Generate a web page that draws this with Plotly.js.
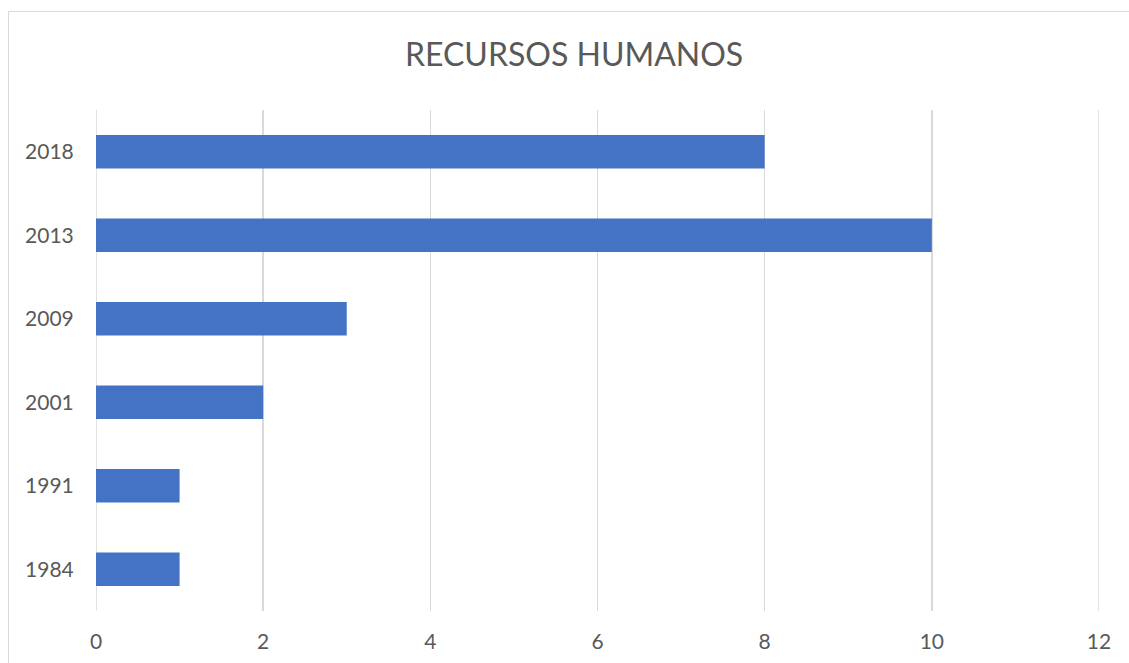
<!DOCTYPE html>
<html>
<head>
<meta charset="utf-8">
<script src="https://cdn.plot.ly/plotly-3.0.1.min.js"></script>
<style>
  html, body { margin: 0; padding: 0; background: #ffffff; overflow: hidden; }
  #frame { position: absolute; left: 8px; top: 11px; width: 1200px; height: 800px;
           border-left: 1px solid #d9d9d9; border-top: 1px solid #d9d9d9; }
  #chart { position: absolute; left: 0; top: 0; width: 1129px; height: 663px; }
</style>
</head>
<body>
<div id="frame"></div>
<div id="chart"></div>
<script>
const years = ['1984', '1991', '2001', '2009', '2013', '2018'];
const values = [1, 1, 2, 3, 10, 8];
const xTicks = [0, 2, 4, 6, 8, 10, 12];
const chartTitle = 'RECURSOS HUMANOS';

const trace = {
  type: 'bar',
  orientation: 'h',
  y: years,
  x: values,
  marker: { color: '#4472C4' },
  hoverinfo: 'x+y'
};

// edge grid lines (Plotly drops grid lines at the very edges of the range)
const edgeGrid = [xTicks[0], xTicks[xTicks.length - 1]].map(v => ({
  type: 'line', xref: 'x', yref: 'paper',
  x0: v, x1: v, y0: 0, y1: 1,
  line: { color: '#d9d9d9', width: 1.5 },
  layer: 'below'
}));

const layout = {
  width: 1129,
  height: 663,
  paper_bgcolor: 'rgba(0,0,0,0)',
  plot_bgcolor: 'rgba(0,0,0,0)',
  margin: { l: 96, r: 30, t: 110, b: 52 },
  bargap: 0.6,
  showlegend: false,
  font: { family: 'Lato, sans-serif', color: '#595959' },
  title: {
    text: chartTitle,
    font: { family: 'Lato, sans-serif', size: 32, color: '#595959' },
    x: 0.5085, xanchor: 'center',
    y: 1 - 55 / 663, yanchor: 'middle', yref: 'container'
  },
  shapes: edgeGrid,
  xaxis: {
    range: [0, 12],
    tickvals: xTicks,
    ticktext: xTicks.map(String),
    showgrid: true,
    gridcolor: '#d9d9d9',
    gridwidth: 1.5,
    zeroline: false,
    showline: false,
    ticks: 'outside',
    ticklen: 12,
    tickcolor: 'rgba(0,0,0,0)',
    tickfont: { family: 'Lato, sans-serif', size: 21, color: '#595959' },
    fixedrange: true
  },
  yaxis: {
    type: 'category',
    categoryorder: 'array',
    categoryarray: years,
    showgrid: false,
    zeroline: false,
    showline: false,
    ticks: 'outside',
    ticklen: 17,
    tickcolor: 'rgba(0,0,0,0)',
    tickfont: { family: 'Lato, sans-serif', size: 21, color: '#595959' },
    fixedrange: true
  }
};

Plotly.newPlot('chart', [trace], layout, { displayModeBar: false, staticPlot: true });
</script>
</body>
</html>
